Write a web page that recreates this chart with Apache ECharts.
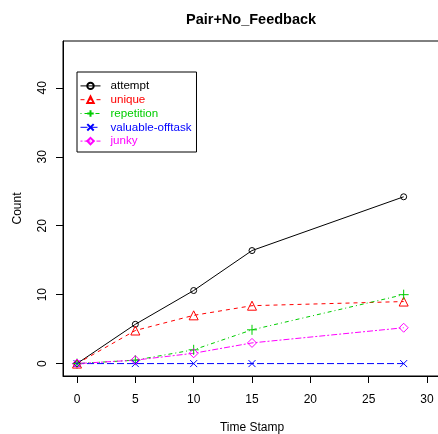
<!DOCTYPE html>
<html>
<head>
<meta charset="utf-8">
<script src="https://cdn.jsdelivr.net/npm/echarts@6/dist/echarts.min.js"></script>
<style>
html,body{margin:0;padding:0;background:#fff;}
#chart{width:438px;height:434px;}
</style>
</head>
<body>
<div id="chart"></div>
<script>
var timeStamps = [0, 5, 10, 15, 28];
var attempt = [0, 5.7, 10.6, 16.4, 24.2];
var unique = [0, 4.8, 7.0, 8.4, 9.0];
var repetition = [0, 0.5, 2.0, 4.9, 10.0];
var valuableOfftask = [0, 0, 0, 0, 0];
var junky = [0, 0.5, 1.5, 3.0, 5.2];
var xTicks = [0, 5, 10, 15, 20, 25, 30];
var yTicks = [0, 10, 20, 30, 40];

function pairs(ys){ return timeStamps.map(function(x,i){ return [x, ys[i]]; }); }

var FONT = '"Liberation Sans", Arial, Helvetica, sans-serif';
var plusPath = 'path://M5,0 L5,10 M0,5 L10,5';
var crossPath = 'path://M0,0 L10,10 M0,10 L10,0';

function mkSeries(name, data, color, dash, symbol, size){
  return {
    name: name, type: 'line', data: pairs(data),
    symbol: symbol, symbolSize: size, showAllSymbol: true,
    lineStyle: {color: color, width: 1, type: dash},
    itemStyle: {color: 'rgba(0,0,0,0)', borderColor: color, borderWidth: 1},
    emphasis: {disabled: true}, animation: false
  };
}

var chart = echarts.init(document.getElementById('chart'), null, {renderer: 'canvas'});
chart.setOption({
  backgroundColor: '#fff',
  animation: false,
  title: {
    text: 'Pair+No_Feedback', left: 181, top: 7,
    textStyle: {fontFamily: FONT, fontWeight: 'bold', fontSize: 14.5, color: '#000'}
  },
  grid: {left: 63, top: 41, width: 378, height: 335, show: true, borderColor: '#000', borderWidth: 1, containLabel: false, outerBoundsMode: 'none'},
  xAxis: {
    type: 'value', min: -1.2, max: 31.2,
    name: 'Time Stamp', nameLocation: 'middle', nameGap: 46,
    nameTextStyle: {fontFamily: FONT, fontSize: 12, color: '#000'},
    axisLine: {show: true, onZero: false, lineStyle: {color: '#000'}},
    axisTick: {show: true, length: 7, customValues: xTicks, lineStyle: {color: '#000'}},
    axisLabel: {customValues: xTicks, margin: 18, fontFamily: FONT, fontSize: 12, color: '#000'},
    splitLine: {show: false}
  },
  yAxis: {
    type: 'value', min: -1.8, max: 46.8,
    name: 'Count', nameLocation: 'middle', nameGap: 39, nameRotate: 90,
    nameTextStyle: {fontFamily: FONT, fontSize: 12, color: '#000'},
    axisLine: {show: true, onZero: false, lineStyle: {color: '#000'}},
    axisTick: {show: true, length: 7, customValues: yTicks, lineStyle: {color: '#000'}},
    axisLabel: {customValues: yTicks, rotate: 90, margin: 14, fontFamily: FONT, fontSize: 12, color: '#000', align: 'center', verticalAlign: 'bottom'},
    splitLine: {show: false}
  },
  legend: {
    orient: 'vertical', left: 77, top: 72,
    borderColor: '#000', borderWidth: 1, padding: [7, 5, 4, 3],
    itemWidth: 20, itemHeight: 8, itemGap: 0,
    lineStyle: {width: 1},
    textStyle: {fontFamily: FONT, fontSize: 11.6, lineHeight: 13.8, padding: [0, 0, 0, 5]},
    data: [
      {name: 'attempt', textStyle: {color: '#000'}},
      {name: 'unique', textStyle: {color: '#ff0000'}},
      {name: 'repetition', textStyle: {color: '#00cd00'}},
      {name: 'valuable-offtask', textStyle: {color: '#0000ff'}},
      {name: 'junky', textStyle: {color: '#ff00ff'}}
    ],
    selectedMode: false
  },
  series: [
    mkSeries('attempt', attempt, '#000000', 'solid', 'circle', 6),
    mkSeries('unique', unique, '#ff0000', [4, 4], 'triangle', 9),
    mkSeries('repetition', repetition, '#00cd00', [1, 3, 4, 3], plusPath, 10),
    mkSeries('valuable-offtask', valuableOfftask, '#0000ff', [7, 3], crossPath, 7),
    mkSeries('junky', junky, '#ff00ff', [2, 2, 6, 2], 'diamond', 9)
  ]
});
</script>
</body>
</html>
